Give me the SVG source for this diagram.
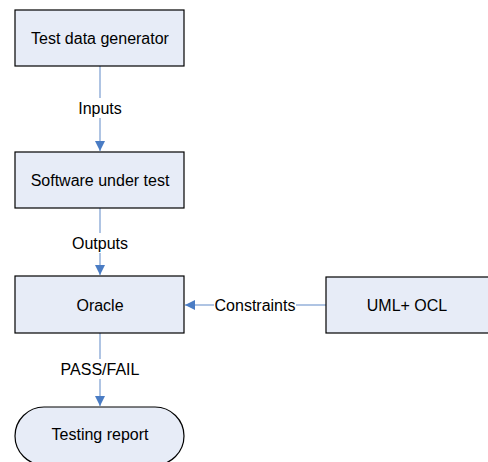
<svg xmlns="http://www.w3.org/2000/svg" width="488" height="462" viewBox="0 0 488 462">
<style>
.box{fill:#E7ECF7;stroke:#000;stroke-width:1.2}
.lbl{font-family:"Liberation Sans",Arial,sans-serif;font-size:16px;fill:#000;text-anchor:middle;dominant-baseline:central}
.edge{stroke:#94B0DA;stroke-width:1.5;fill:none}
.bg{fill:#fff}
</style>
<defs>
<marker id="ah" viewBox="0 0 10 10" refX="10" refY="5" markerWidth="10" markerHeight="10" markerUnits="userSpaceOnUse" orient="auto">
<path d="M0,0 L10,5 L0,10 Z" fill="#4A7CC4"/>
</marker>
</defs>
<rect width="488" height="462" fill="#fff"/>
<g id="connectors">
<line class="edge" x1="100" y1="66" x2="100" y2="151" marker-end="url(#ah)"/>
<line class="edge" x1="100" y1="208" x2="100" y2="275" marker-end="url(#ah)"/>
<line class="edge" x1="100" y1="333" x2="100" y2="406" marker-end="url(#ah)"/>
<line class="edge" x1="326" y1="305" x2="185" y2="305" marker-end="url(#ah)"/>
<rect class="bg" x="76" y="98" width="48" height="20"/>
<text class="lbl" x="100" y="108">Inputs</text>
<rect class="bg" x="70" y="233" width="60" height="20"/>
<text class="lbl" x="100" y="243">Outputs</text>
<rect class="bg" x="58" y="359" width="84" height="20"/>
<text class="lbl" x="100" y="369">PASS/FAIL</text>
<rect class="bg" x="214" y="295" width="82" height="20"/>
<text class="lbl" x="255" y="305">Constraints</text>
</g>
<g id="n1">
<rect class="box" x="15" y="10" width="169" height="56"/>
<text class="lbl" x="100" y="38">Test data generator</text>
</g>
<g id="n2">
<rect class="box" x="15" y="152" width="169" height="56"/>
<text class="lbl" x="100" y="180">Software under test</text>
</g>
<g id="n3">
<rect class="box" x="15" y="276" width="169" height="57"/>
<text class="lbl" x="100" y="305">Oracle</text>
</g>
<g id="n4">
<rect class="box" x="326" y="277" width="170" height="56"/>
<text class="lbl" x="407" y="305">UML+ OCL</text>
</g>
<g id="n5">
<rect class="box" x="15" y="407" width="169" height="58" rx="29" ry="29"/>
<text class="lbl" x="100" y="434">Testing report</text>
</g>
</svg>
